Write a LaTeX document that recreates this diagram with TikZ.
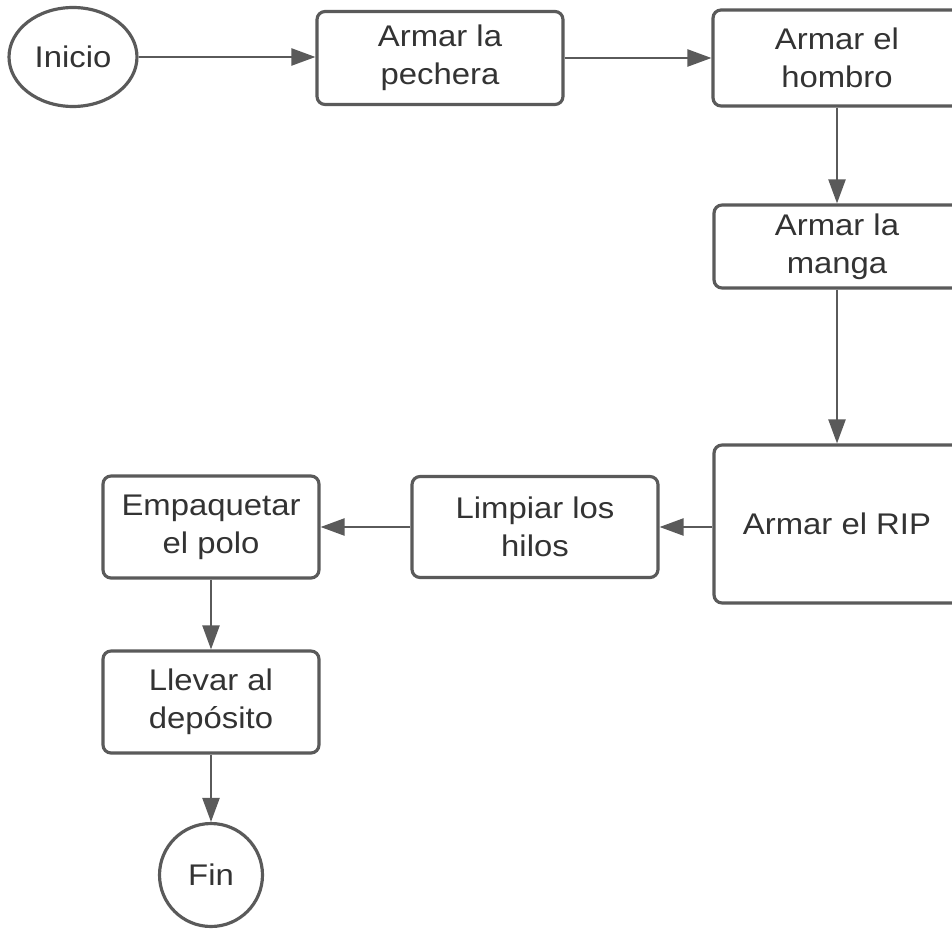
\documentclass[tikz,border=0pt]{standalone}
\usepackage{fontspec}
\setmainfont{Liberation Sans}[FakeStretch=1.1]
\usepackage{xcolor}
\usetikzlibrary{arrows.meta,shapes.geometric}

\definecolor{borde}{HTML}{5A5A5A}
\definecolor{texto}{HTML}{333333}

\tikzset{
  paso/.style={draw=borde, line width=1.8pt, rounded corners=0.16cm, fill=white,
    align=center, inner sep=0pt, text=texto, font=\fontsize{17}{21.5}\selectfont},
  terminal/.style={draw=borde, line width=1.8pt, ellipse, fill=white,
    inner sep=0pt, text=texto, font=\fontsize{17}{21.5}\selectfont},
  flecha/.style={draw=borde, line width=1.3pt, -{Triangle[length=4.8mm,width=3.4mm]}}
}

\begin{document}
\begin{tikzpicture}[x=0.02cm,y=-0.02cm]
            \clip (0,0) rectangle (952,932);
            \fill[white] (0,0) rectangle (952,932);

            %% fila de arriba
            \node[terminal, minimum width=2.56cm, minimum height=1.98cm] (inicio) at (73,57) {Inicio};
            \node[paso, minimum width=4.92cm, minimum height=1.86cm] (pechera) at (440,58) {Armar la\\pechera};
            \node[paso, minimum width=4.96cm, minimum height=1.92cm] (hombro) at (837,58) {Armar el\\hombro};

            %% columna derecha
            \node[paso, minimum width=4.92cm, minimum height=1.66cm] (manga) at (837,246.5) {Armar la\\manga};
            \node[paso, minimum width=4.92cm, minimum height=3.16cm] (rip) at (837,524) {Armar el RIP};

            %% fila de abajo
            \node[paso, minimum width=4.92cm, minimum height=2.02cm] (limpiar) at (535,527) {Limpiar los\\hilos};
            \node[paso, minimum width=4.32cm, minimum height=2.04cm] (empaquetar) at (211,527) {Empaquetar\\el polo};
            \node[paso, minimum width=4.32cm, minimum height=2.04cm] (llevar) at (211,702) {Llevar al\\dep\'osito};
            \node[terminal, circle, minimum size=2.06cm] (fin) at (211,875) {Fin};

            %% flechas
            \draw[flecha] (inicio.east) -- (inicio.east -| pechera.west);
            \draw[flecha] (pechera.east) -- (hombro.west);
            \draw[flecha] (hombro.south) -- (manga.north);
            \draw[flecha] (manga.south) -- (rip.north);
            \draw[flecha] (limpiar.east -| rip.west) -- (limpiar.east);
            \draw[flecha] (limpiar.west) -- (empaquetar.east);
            \draw[flecha] (empaquetar.south) -- (llevar.north);
            \draw[flecha] (llevar.south) -- (fin.north);

        \end{tikzpicture}
\end{document}
